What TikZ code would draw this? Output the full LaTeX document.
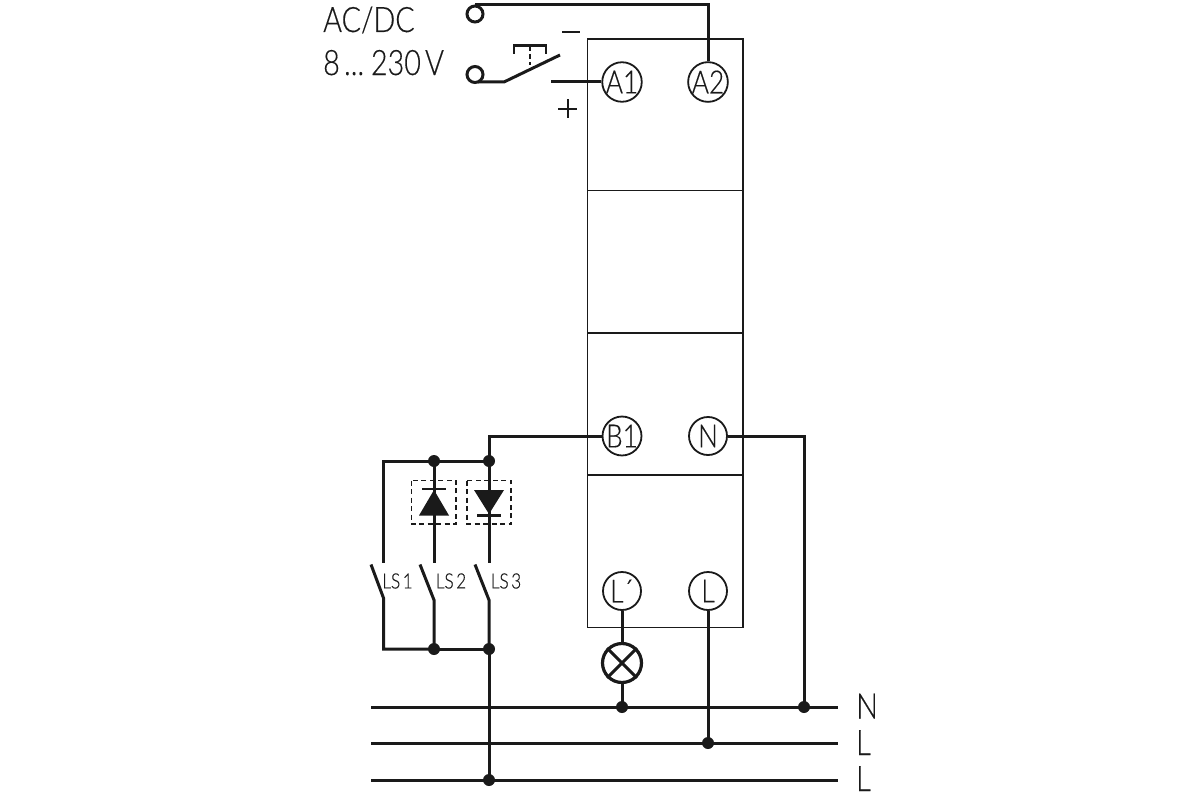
\documentclass[tikz,border=0pt]{standalone}
\usepackage{fontspec}
\setmainfont{Lato Light}[FakeStretch=0.82,FakeBold=0.35]
\newcommand{\tightsp}[1]{{\spaceskip=0.12em\relax #1}}
\begin{document}
\begin{tikzpicture}[x=1pt,y=-1pt,
  thickw/.style={line width=3pt,draw=ink},
  thinw/.style={line width=1.8pt,draw=ink},
  term/.style={circle,draw=ink,line width=1.8pt,fill=white,minimum size=38pt,inner sep=0pt,font=\fontsize{32}{32}\selectfont,text=ink},
  jdot/.style={circle,fill=ink,minimum size=12pt,inner sep=0pt},
  open/.style={circle,draw=ink,line width=3pt,minimum size=16pt,inner sep=0pt},
  txt/.style={inner sep=0pt,text=ink,font=\fontsize{35}{35}\selectfont},
  lstxt/.style={inner sep=0pt,text=ink,font=\fontsize{21}{21}\selectfont},
  dbox/.style={draw=ink,line width=1.5pt,dash pattern=on 5pt off 3.5pt},
  lampc/.style={circle,draw=ink,line width=3.2pt,minimum size=39pt,inner sep=0pt,fill=white}]
\definecolor{ink}{HTML}{1A1A1A}
\useasboundingbox (0,0) rectangle (1200,800);
% housing
\draw[thinw] (587.5,39) rectangle (743,627.5);
\draw[thinw] (587.5,190.5) -- (743,190.5) (587.5,333) -- (743,333) (587.5,475) -- (743,475);
% terminals
\node[term] (A1) at (622,82) {A1};
\node[term] (A2) at (708,82) {A2};
\node[term] (B1) at (622,436) {B1};
\node[term] (N) at (708,436) {N};
\node[term] (Lp) at (622,591) {L´};
\node[term] (L) at (708,591) {L};
% supply
\node[open] (o1) at (475,14) {};
\node[open] (o2) at (475,74.5) {};
\coordinate (c0) at (478,82);
\coordinate (c1) at (551,82);
\coordinate (c2) at (504,82);
\coordinate (c3) at (560,55);
\draw[thickw] (o1.north) -- (708,4.5) -- (A2.north);
\draw[thickw] (c0) -- (c2) -- (c3);
\draw[thickw] (c1) -- (A1.west);
\draw[line width=2.2pt,draw=ink] (514,54) -- (514,45.5) -- (546,45.5) -- (546,54);
\draw[line width=1.2pt,draw=ink,dash pattern=on 5pt off 3pt] (530,46) -- (530,65);
\draw[line width=2.2pt,draw=ink] (562,32) -- (580,32);
\draw[line width=2pt,draw=ink] (558,108.5) -- (577,108.5) (567.5,99) -- (567.5,118);
\node[txt,anchor=base west] (t1) at (323,32) {AC/DC};
\node[txt,anchor=base west] (t2) at (323,75) {\tightsp{8 ... 230 V}};
\node[jdot] (d1) at (434,461) {};
\node[jdot] (d2) at (489,461) {};
\node[jdot] (d3) at (434,649) {};
\node[jdot] (d4) at (489,649) {};
\node[jdot] (d5) at (489,780) {};
\node[jdot] (d6) at (622,707) {};
\node[jdot] (d7) at (804,707) {};
\node[jdot] (d8) at (708,743) {};
% B1, N
\draw[thickw] (B1.west) -- (489,436) -- (d2.center);
\draw[thickw] (N.east) -- (804,436) -- (d7.center);
% upper bus
\draw[thickw] (d2.center) -- (d1.center) -- (383.5,461) -- (383.5,563);
\draw[thickw] (d1.center) -- (434,563);
\draw[thickw] (d2.center) -- (489,563);
% switches
\draw[thickw] (371,564.5) -- (383.5,598) -- (383.5,649) -- (d3.center);
\draw[thickw] (420,564.5) -- (434,600) -- (d3.center);
\draw[thickw] (475,564.5) -- (489,600) -- (d4.center);
\draw[thickw] (d3.center) -- (d4.center) -- (d5.center);
\node[lstxt] (ls1) at (397.5,581) {\tightsp{LS 1}};
\node[lstxt] (ls2) at (451,581) {\tightsp{LS 2}};
\node[lstxt] (ls3) at (506,581) {\tightsp{LS 3}};
% diodes
\draw[dbox] (411.5,480.5) rectangle (456,524);
\draw[dbox] (467,480.5) rectangle (511,524);
\fill[ink] (419,515.5) -- (449,515.5) -- (434,490) -- cycle;
\draw[thickw,line width=2.2pt] (422,489) -- (446,489);
\fill[ink] (474,490) -- (504,490) -- (489,514) -- cycle;
\draw[thickw,line width=2.2pt] (477,515.5) -- (501,515.5);
% lamp
\node[lampc] (lamp) at (622,663) {};
\draw[thickw] (lamp.north west) -- (lamp.south east) (lamp.north east) -- (lamp.south west);
\draw[thickw] (Lp.south) -- (lamp.north);
\draw[thickw] (lamp.south) -- (d6.center);
\draw[thickw] (L.south) -- (d8.center);
% mains
\coordinate (n0) at (371,707); \coordinate (n1) at (838,707);
\coordinate (l0) at (371,743); \coordinate (l1) at (838,743);
\coordinate (m0) at (371,780); \coordinate (m1) at (838,780);
\draw[thickw] (n0) -- (n1);
\draw[thickw] (l0) -- (l1);
\draw[thickw] (m0) -- (m1);
\node[txt,anchor=base west] at (856,718.5) {N};
\node[txt,anchor=base west] at (856,755) {L};
\node[txt,anchor=base west] at (856,791) {L};
\end{tikzpicture}
\end{document}
